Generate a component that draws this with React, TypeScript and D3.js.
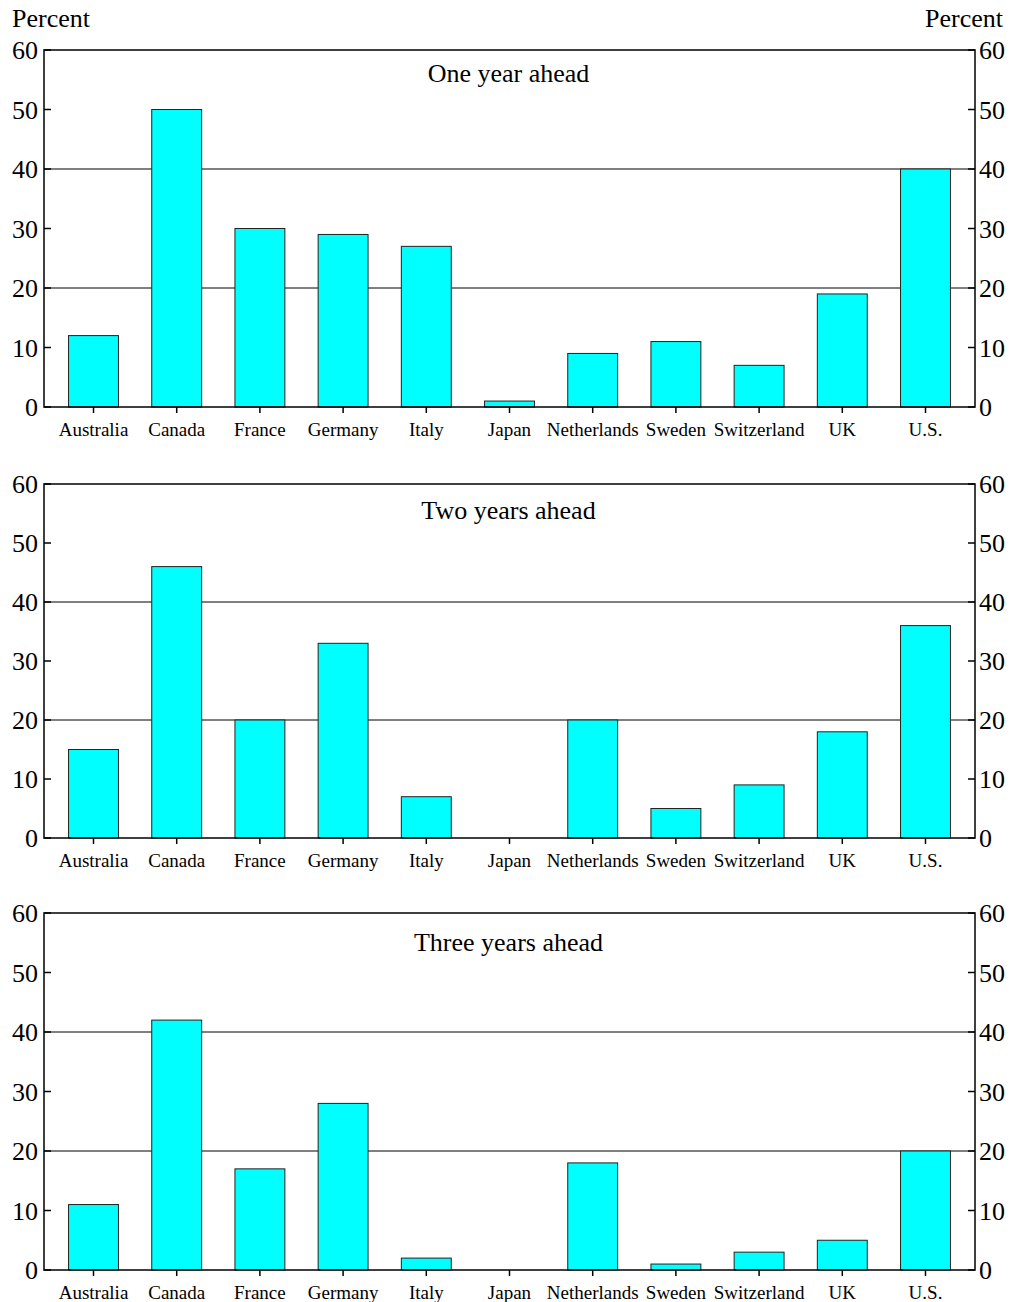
import React from "react";
import * as d3 from "d3";

const countries = ["Australia", "Canada", "France", "Germany", "Italy", "Japan", "Netherlands", "Sweden", "Switzerland", "UK", "U.S."];
const oneYear = [12, 50, 30, 29, 27, 1, 9, 11, 7, 19, 40];
const twoYears = [15, 46, 20, 33, 7, 0, 20, 5, 9, 18, 36];
const threeYears = [11, 42, 17, 28, 2, 0, 18, 1, 3, 5, 20];
const titles = ["One year ahead", "Two years ahead", "Three years ahead"];
const yTicks = [0, 10, 20, 30, 40, 50, 60];
const gridValues = [20, 40];

const W = 1011;
const H = 1302;
const LEFT = 44;
const RIGHT = 975;
const FONT = "'Liberation Serif', 'Times New Roman', serif";

const layout = [
  { top: 50, bottom: 407, titleY: 82 },
  { top: 484, bottom: 838, titleY: 519 },
  { top: 913, bottom: 1270, titleY: 951 },
];
const series = [oneYear, twoYears, threeYears];

function Panel({ values, title, top, bottom, titleY }: { values: number[]; title: string; top: number; bottom: number; titleY: number }) {
  const x = d3.scaleBand<string>().domain(countries).range([LEFT, RIGHT]).paddingInner(0.4).paddingOuter(0.295);
  const y = d3.scaleLinear().domain([0, 60]).range([bottom, top]);
  return (
    <g>
      {gridValues.map((g) => (
        <line key={g} x1={LEFT} x2={RIGHT} y1={y(g)} y2={y(g)} stroke="#000" strokeWidth={1} />
      ))}
      {values.map((v, i) =>
        v > 0 ? (
          <rect
            key={countries[i]}
            x={x(countries[i])}
            y={y(v)}
            width={x.bandwidth()}
            height={y(0) - y(v)}
            fill="#00FFFF"
            stroke="#222"
            strokeWidth={1}
          />
        ) : null
      )}
      <rect x={LEFT} y={top} width={RIGHT - LEFT} height={bottom - top} fill="none" stroke="#000" strokeWidth={1.5} />
      {yTicks.map((t) => (
        <g key={t}>
          <line x1={LEFT} x2={LEFT + 7} y1={y(t)} y2={y(t)} stroke="#000" strokeWidth={1.5} />
          <line x1={RIGHT - 7} x2={RIGHT} y1={y(t)} y2={y(t)} stroke="#000" strokeWidth={1.5} />
          <text x={LEFT - 6} y={y(t)} dy="0.35em" textAnchor="end" fontSize={26} fontFamily={FONT}>
            {t}
          </text>
          <text x={RIGHT + 4} y={y(t)} dy="0.35em" textAnchor="start" fontSize={26} fontFamily={FONT}>
            {t}
          </text>
        </g>
      ))}
      {countries.map((c) => {
        const cx = (x(c) as number) + x.bandwidth() / 2;
        return (
          <g key={c}>
            <line x1={cx} x2={cx} y1={bottom} y2={bottom + 6} stroke="#000" strokeWidth={1.5} />
            <text x={cx} y={bottom + 29} textAnchor="middle" fontSize={19} fontFamily={FONT}>
              {c}
            </text>
          </g>
        );
      })}
      <text x={(LEFT + RIGHT) / 2 - 1} y={titleY} textAnchor="middle" fontSize={26} fontFamily={FONT}>
        {title}
      </text>
    </g>
  );
}

export default function App() {
  return (
    <svg width={W} height={H} style={{ position: "absolute", left: 0, top: 0, background: "#fff" }}>
      <rect x={0} y={0} width={W} height={H} fill="#fff" />
      <text x={12} y={27} fontSize={26} fontFamily={FONT}>Percent</text>
      <text x={1003} y={27} fontSize={26} fontFamily={FONT} textAnchor="end">Percent</text>
      {layout.map((l, i) => (
        <Panel key={i} values={series[i]} title={titles[i]} top={l.top} bottom={l.bottom} titleY={l.titleY} />
      ))}
    </svg>
  );
}
